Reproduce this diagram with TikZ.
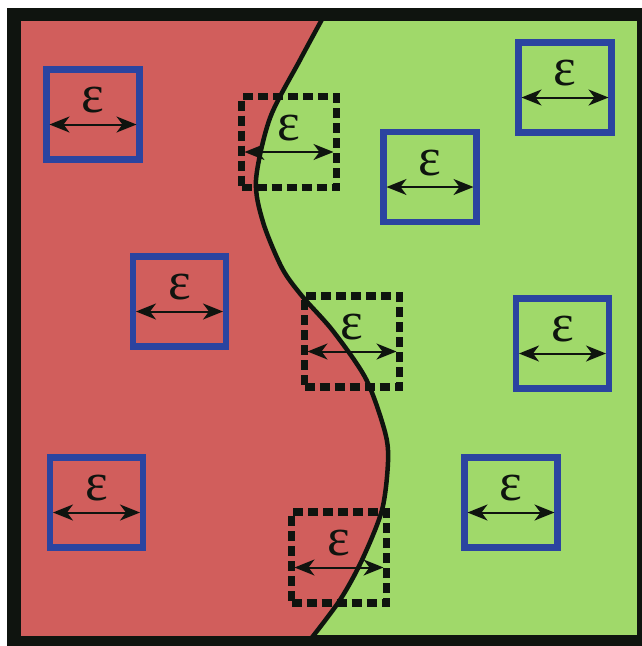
\documentclass[tikz,border=0pt]{standalone}
\usepackage{fontspec}
\newfontfamily\epsfont{Liberation Serif}
\usetikzlibrary{arrows.meta}
\definecolor{regionred}{HTML}{D15E5C}
\definecolor{regiongreen}{HTML}{A0D96A}
\definecolor{boxblue}{HTML}{2B44A0}
\definecolor{frameblack}{HTML}{0F140F}
\tikzset{
  ballbox/.style={draw=boxblue, line width=6.5pt, minimum width=93pt, minimum height=90pt, inner sep=0pt, outer sep=0pt},
  dashbox/.style={draw=frameblack, line width=7.5pt, dash pattern=on 10pt off 5pt, minimum width=95pt, minimum height=91pt, inner sep=0pt, outer sep=0pt},
  epslabel/.style={inner sep=0pt, text=frameblack, font=\epsfont\fontsize{54}{54}\selectfont},
  widtharrow/.style={{Stealth[length=20pt,width=16pt,inset=6pt]}-{Stealth[length=20pt,width=16pt,inset=6pt]}, line width=2pt, frameblack, shorten <=3pt, shorten >=3pt}
}
% a square of side epsilon with its label and width arrow
\newcommand{\epsquare}[3]{%
  \node[#3] (#1) at (#2) {};
  \node[epslabel, anchor=center] (#1-lbl) at ([yshift=14pt]#1.center) {ε};
  \draw[widtharrow] ([yshift=-10pt]#1.west) -- ([yshift=-10pt]#1.east);
}
\begin{document}
\begin{tikzpicture}[x=1pt, y=-1pt]
  \useasboundingbox (0,0) rectangle (642,646);
  % thick outer frame
  \fill[frameblack] (7,8) rectangle (642,646);
  \begin{scope}
    \clip (21,21) rectangle (637,635);
    \fill[regiongreen] (21,21) rectangle (637,635);
    \fill[regionred] (21,0) -- (326,0) -- plot[smooth] coordinates {(326,12) (300,60) (270,118) (256,180) (263,222) (282,268) (302,296) (333,331) (366,379) (385,432) (388,462) (382,510) (362,560) (340,600) (310,640)} -- (310,646) -- (21,646) -- cycle;
    \draw[frameblack, line width=4.5pt] plot[smooth] coordinates {(326,12) (300,60) (270,118) (256,180) (263,222) (282,268) (302,296) (333,331) (366,379) (385,432) (388,462) (382,510) (362,560) (340,600) (310,640)};
  \end{scope}
  % squares lying inside one region
  \epsquare{b1}{93,114.5}{ballbox}
  \epsquare{b2}{179.5,301.5}{ballbox}
  \epsquare{b3}{96.5,502.5}{ballbox}
  \epsquare{b4}{565,87.5}{ballbox}
  \epsquare{b5}{430,177}{ballbox}
  \epsquare{b6}{562.5,343.5}{ballbox}
  \epsquare{b7}{511,502.5}{ballbox}
  % squares crossing the boundary
  \epsquare{d1}{289,142}{dashbox}
  \epsquare{d2}{352,341.5}{dashbox}
  \epsquare{d3}{339,557.5}{dashbox}
\end{tikzpicture}
\end{document}
